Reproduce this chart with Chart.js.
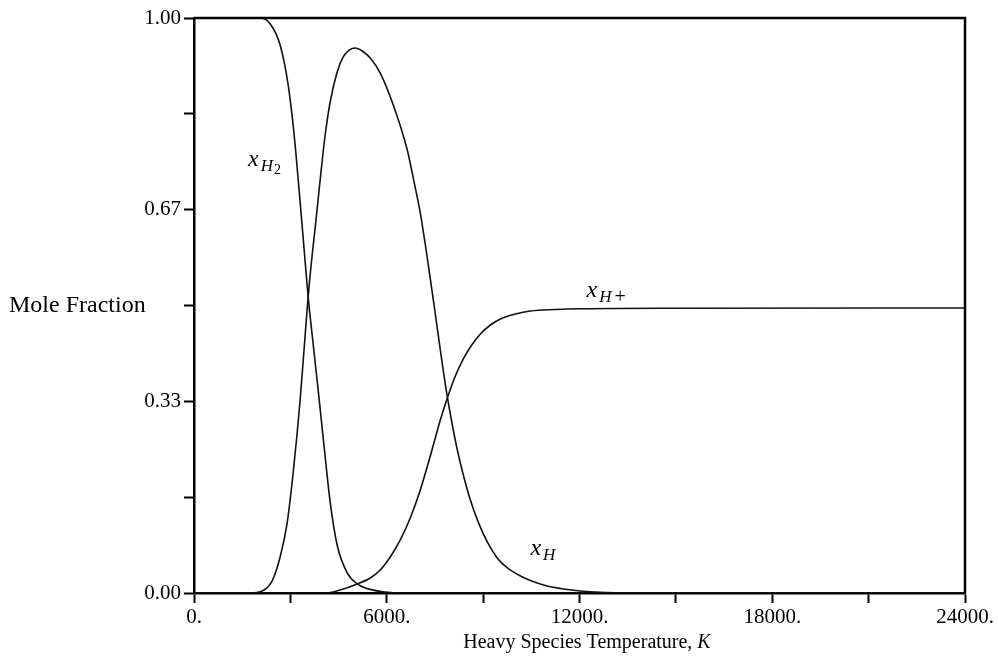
<!DOCTYPE html>
<html>
<head>
<meta charset="utf-8">
<script src="https://cdn.jsdelivr.net/npm/chart.js@4"></script>
<style>
  html, body { margin: 0; padding: 0; background: #fff; }
  canvas { display: block; }
</style>
</head>
<body>
<canvas id="chart" width="998" height="669"></canvas>
<script>
'use strict';

// ── Data ─────────────────────────────────────────────────────────────
// Equilibrium mole fractions of hydrogen species vs heavy species temperature (K)
const h2Temp = [0, 1500, 2057, 2369, 2681, 2930, 3117, 3273, 3429, 3553, 3678, 3865, 4083, 4239, 4457, 4769, 5081, 5579, 6203, 8000, 24000];
const h2Frac = [1, 1, 1, 0.99, 0.953, 0.884, 0.797, 0.70, 0.597, 0.515, 0.449, 0.353, 0.237, 0.158, 0.083, 0.035, 0.016, 0.005, 0.0005, 0, 0];

const hTemp = [0, 1745, 2182, 2431, 2681, 2899, 3086, 3304, 3460, 3553, 3678, 3771, 3927, 4083, 4239, 4457, 4644, 4831, 5018,
  5236, 5486, 5797, 6203, 6639, 6857, 7044, 7294, 7481, 7668, 7886, 8042, 8197, 8384, 8603, 8852, 9133, 9444, 9756,
  10161, 10473, 10940, 11501, 12343, 13060, 14213, 24000];
const hFrac = [0, 0, 0.0052, 0.0209, 0.0626, 0.1217, 0.2087, 0.3357, 0.4487, 0.5148, 0.5878, 0.6348, 0.7183, 0.7965, 0.8539,
  0.9061, 0.9322, 0.9443, 0.9478, 0.9426, 0.9304, 0.9043, 0.8487, 0.7704, 0.713, 0.6609, 0.5704, 0.4974, 0.4226, 0.3409,
  0.2922, 0.2487, 0.2052, 0.1617, 0.1228, 0.0883, 0.0605, 0.0435, 0.0296, 0.0217, 0.013, 0.007, 0.0021, 0.0005, 0, 0];

const hpTemp = [0, 4145, 4551, 5081, 5486, 5797, 6109, 6421, 6732, 7044, 7356, 7668, 7886, 8135, 8384, 8603,
  8914, 9226, 9538, 10005, 10473, 11252, 12031, 15148, 24000];
const hpFrac = [0, 0, 0.0052, 0.0157, 0.0261, 0.04, 0.0626, 0.0922, 0.1304, 0.1791, 0.2383, 0.3009, 0.3391,
  0.3774, 0.407, 0.4278, 0.4504, 0.4661, 0.4765, 0.4852, 0.4904, 0.493, 0.4943, 0.4953, 0.4957];

const xTicks  = [0, 3000, 6000, 9000, 12000, 15000, 18000, 21000, 24000];
const xLabels = ['0.', '', '6000.', '', '12000.', '', '18000.', '', '24000.'];
const yTicks  = [0, 1 / 6, 2 / 6, 3 / 6, 4 / 6, 5 / 6, 1];
const yLabels = ['0.00', '', '0.33', '', '0.67', '', '1.00'];

// Curve labels, anchored at the left/baseline of the "x"
const curveLabels = [
  { sub: 'H', tail: '2', t: 1683, v: 0.743 },
  { sub: 'H', tail: '',  t: 10473, v: 0.066 },
  { sub: 'H', tail: '+', t: 12218, v: 0.515 },
];

const SERIF = '"Liberation Serif", "DejaVu Serif", serif';

function pts(xs, ys) {
  return xs.map((x, i) => ({ x, y: ys[i] }));
}

function curve(label, xs, ys) {
  return {
    label,
    data: pts(xs, ys),
    borderColor: '#111',
    borderWidth: 1.6,
    pointRadius: 0,
    fill: false,
    cubicInterpolationMode: 'monotone',
  };
}

// ── Frame, axis titles and curve labels ──────────────────────────────
const decorations = {
  id: 'decorations',
  afterDraw(chart) {
    const { ctx, chartArea: a, scales } = chart;
    ctx.save();

    // top and right edges of the box
    ctx.strokeStyle = '#000';
    ctx.lineWidth = 2.5;
    ctx.beginPath();
    ctx.moveTo(a.left, a.top);
    ctx.lineTo(a.right, a.top);
    ctx.lineTo(a.right, a.bottom);
    ctx.stroke();

    ctx.fillStyle = '#000';

    // y title, horizontal at the left
    ctx.font = `24px ${SERIF}`;
    ctx.textAlign = 'left';
    ctx.textBaseline = 'middle';
    ctx.fillText('Mole Fraction', 9, scales.y.getPixelForValue(0.5));

    // x title with italic K
    ctx.textBaseline = 'alphabetic';
    const plain = 'Heavy Species Temperature, ';
    ctx.font = `20px ${SERIF}`;
    const w1 = ctx.measureText(plain).width;
    ctx.font = `italic 20px ${SERIF}`;
    const w2 = ctx.measureText('K').width;
    const x0 = 587 - (w1 + w2) / 2;
    ctx.font = `20px ${SERIF}`;
    ctx.fillText(plain, x0, 648);
    ctx.font = `italic 20px ${SERIF}`;
    ctx.fillText('K', x0 + w1, 648);

    // curve labels
    for (const l of curveLabels) {
      let px = scales.x.getPixelForValue(l.t);
      const py = scales.y.getPixelForValue(l.v);
      ctx.font = `italic 24px ${SERIF}`;
      ctx.fillText('x', px, py);
      px += ctx.measureText('x').width + 2;
      ctx.font = `italic 17px ${SERIF}`;
      ctx.fillText(l.sub, px, py + 5);
      px += ctx.measureText(l.sub).width + 1;
      if (l.tail === '2') {
        ctx.font = `14px ${SERIF}`;
        ctx.fillText('2', px, py + 8);
      } else if (l.tail === '+') {
        ctx.font = `20px ${SERIF}`;
        ctx.fillText('+', px + 2, py + 6);
      }
    }
    ctx.restore();
  },
};

// ── Chart ────────────────────────────────────────────────────────────
Chart.defaults.font.family = SERIF;
Chart.defaults.color = '#000';

const tickGrid = {
  drawOnChartArea: false,
  drawTicks: true,
  tickLength: 10,
  tickWidth: 2,
  tickColor: '#000',
};

new Chart(document.getElementById('chart'), {
  type: 'line',
  data: {
    datasets: [
      curve('xH2', h2Temp, h2Frac),
      curve('xH', hTemp, hFrac),
      curve('xH+', hpTemp, hpFrac),
    ],
  },
  options: {
    responsive: false,
    animation: false,
    layout: { padding: { top: 18, right: 33, left: 0, bottom: 0 } },
    plugins: { legend: { display: false }, tooltip: { enabled: false } },
    scales: {
      x: {
        type: 'linear',
        min: 0,
        max: 24000,
        afterBuildTicks: s => { s.ticks = xTicks.map(value => ({ value })); },
        afterFit: s => { s.height = 76; s.paddingLeft = 0; s.paddingRight = 0; },
        ticks: {
          autoSkip: false,
          maxRotation: 0,
          padding: 2,
          font: { size: 21 },
          callback: (v, i) => xLabels[i],
        },
        grid: tickGrid,
        border: { display: true, color: '#000', width: 2.5 },
      },
      y: {
        min: 0,
        max: 1,
        afterBuildTicks: s => { s.ticks = yTicks.map(value => ({ value })); },
        afterFit: s => { s.width = 194; s.paddingTop = 0; s.paddingBottom = 0; },
        ticks: {
          autoSkip: false,
          padding: 3,
          font: { size: 21 },
          callback: (v, i) => yLabels[i],
        },
        grid: tickGrid,
        border: { display: true, color: '#000', width: 2.5 },
      },
    },
  },
  plugins: [decorations],
});
</script>
</body>
</html>
